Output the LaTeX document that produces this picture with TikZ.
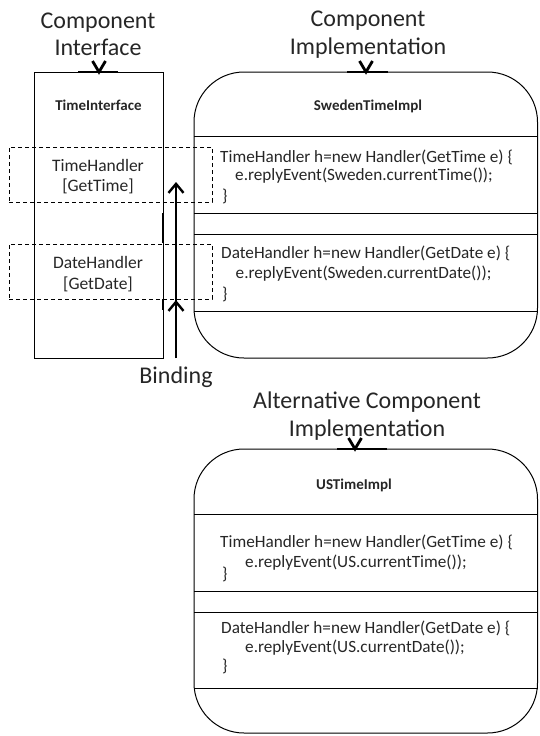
\documentclass[tikz,border=0pt]{standalone}
\usepackage{fontspec}
\setmainfont{Carlito}
\usetikzlibrary{arrows.meta}
\begin{document}
\begin{tikzpicture}[x=1pt,y=-1pt,
  box/.style={draw=black, line width=1pt, inner sep=0, outer sep=0},
  sep/.style={draw=black, line width=0.9pt},
  dashbox/.style={draw=black, dash pattern=on 4pt off 3pt, line width=0.9pt, inner sep=0, outer sep=0},
  bigtxt/.style={font=\fontsize{24}{28}\selectfont, text=black!85, inner sep=0, anchor=base},
  boldtxt/.style={font=\fontsize{15}{18}\selectfont\bfseries, text=black!85, inner sep=0, anchor=base},
  hlab/.style={font=\fontsize{17.5}{20}\selectfont, text=black!85, inner sep=0, anchor=base},
  code/.style={font=\fontsize{17.2}{20}\selectfont, text=black!85, inner sep=0, anchor=base west},
  markbar/.style={line width=2.4pt},
  chevron/.style={line width=2.8pt, line join=miter},
  thickseg/.style={line width=2.6pt},
  bindarrow/.style={line width=1.6pt, -{Straight Barb[length=9pt,width=15pt,line width=2.4pt]}},
  bindarrowthick/.style={line width=2.8pt, -{Straight Barb[length=9pt,width=15pt,line width=2.4pt]}}
]
\useasboundingbox (0,0) rectangle (539,736);

% ---------- labels above ----------
\node[bigtxt] (ifaceA) at (98,28.7) {Component};
\node[bigtxt] (ifaceB) at (98,55.7) {Interface};
\node[bigtxt] (implA) at (368,26.7) {Component};
\node[bigtxt] (implB) at (368,54.7) {Implementation};

% ---------- interface box ----------
\node[box, anchor=north west, minimum width=129pt, minimum height=286pt] (iface) at (34,72) {};
\node[boldtxt] (ifacetitle) at (98.5,110) {TimeInterface};
\draw[markbar] (78,72) -- (118,72);
\draw[chevron] (92.5,61) -- (99,72) -- (105.5,61);

% ---------- Sweden implementation ----------
\node[box, anchor=north west, minimum width=343.5pt, minimum height=286pt, rounded corners=50pt] (sweden) at (194,72) {};
\node[boldtxt] (swedentitle) at (368,110) {SwedenTimeImpl};
\draw[markbar] (347,72) -- (388,72);
\draw[chevron] (359.5,61) -- (366,72) -- (372.5,61);
\foreach \yy in {136,213,234,311}
  \draw[sep] (sweden.west |- 0,\yy) -- (sweden.east |- 0,\yy);
\node[code] (sw1) at (220,162.5) {TimeHandler h=new Handler(GetTime e) \{};
\node[code] (sw2) at (235,180.5) {e.replyEvent(Sweden.currentTime());};
\node[code] (sw3) at (222,201) {\}};
\node[code] (sw4) at (221,258.5) {DateHandler h=new Handler(GetDate e) \{};
\node[code] (sw5) at (235.5,278) {e.replyEvent(Sweden.currentDate());};
\node[code] (sw6) at (222,299) {\}};

% ---------- handler boxes (dashed) ----------
\node[dashbox, anchor=north west, minimum width=203pt, minimum height=55pt] (thbox) at (9,147) {};
\node[hlab] (thA) at (98,171.6) {TimeHandler};
\node[hlab] (thB) at (98,191.6) {[GetTime]};
\node[dashbox, anchor=north west, minimum width=203pt, minimum height=55pt] (dhbox) at (9,244) {};
\node[hlab] (dhA) at (98,268.6) {DateHandler};
\node[hlab] (dhB) at (98,289.6) {[GetDate]};

% thick port segments on the interface edge
\draw[thickseg] (iface.east |- 0,213) -- (iface.east |- 0,243);
\draw[thickseg] (iface.east |- 0,299) -- (iface.east |- 0,310);

% ---------- binding ----------
\coordinate (bindfoot) at (176,358);
\coordinate (tipT) at (176,182);
\coordinate (tipD) at (176,300);
\draw[bindarrow] (bindfoot) -- (tipT);
\draw[bindarrowthick] (bindfoot) -- (tipD);
\node[bigtxt] (binding) at (176,383) {Binding};

% ---------- alternative implementation ----------
\node[bigtxt] (altA) at (367,408.7) {Alternative Component};
\node[bigtxt] (altB) at (367,436.7) {Implementation};
\node[box, anchor=north west, minimum width=343.5pt, minimum height=284pt, rounded corners=50pt] (us) at (194,449) {};
\node[boldtxt] (ustitle) at (354,489) {USTimeImpl};
\draw[markbar] (337,449) -- (387,449);
\draw[chevron] (348.5,438) -- (355,449) -- (361.5,438);
\foreach \yy in {514,591,612,688}
  \draw[sep] (us.west |- 0,\yy) -- (us.east |- 0,\yy);
\node[code] (us1) at (220,547.5) {TimeHandler h=new Handler(GetTime e) \{};
\node[code] (us2) at (245,567.5) {e.replyEvent(US.currentTime());};
\node[code] (us3) at (222,579) {\}};
\node[code] (us4) at (221,633.5) {DateHandler h=new Handler(GetDate e) \{};
\node[code] (us5) at (245,652.5) {e.replyEvent(US.currentDate());};
\node[code] (us6) at (222,671) {\}};
\end{tikzpicture}
\end{document}
